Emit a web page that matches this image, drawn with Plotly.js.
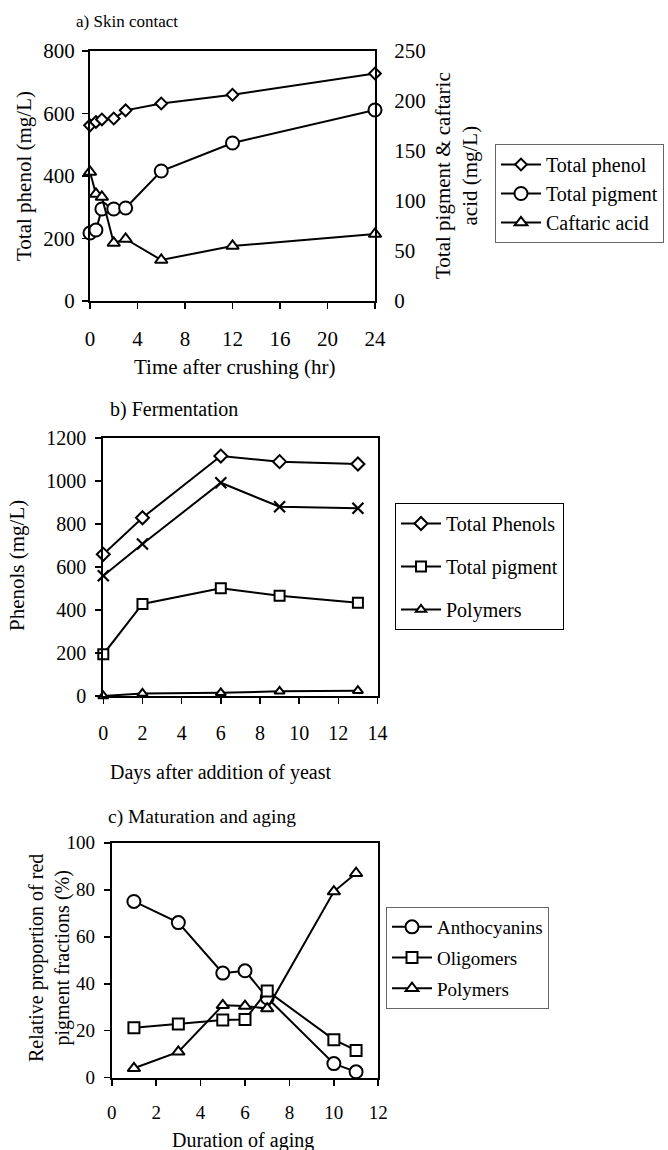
<!DOCTYPE html>
<html><head><meta charset="utf-8">
<script src="https://cdn.plot.ly/plotly-3.0.1.min.js"></script>
<style>html,body{margin:0;padding:0;background:#fff}#chart{width:668px;height:1150px}</style>
</head><body><div id="chart"></div>
<script>
// ---------- Data ----------
// a) Skin contact
const timeA = [0, 0.5, 1, 2, 3, 6, 12, 24];
const totalPhenolA = [562, 573, 581, 584, 610, 632, 660, 728];
const totalPigmentA = [68, 71, 92, 92, 93, 130, 158, 191];
const caftaricA = [129, 107, 104, 58, 62, 41, 55, 67];
// b) Fermentation
const daysB = [0, 2, 6, 9, 13];
const totalPhenolsB = [659, 829, 1116, 1090, 1079];
const unlabeledB = [559, 707, 992, 880, 873];
const totalPigmentB = [194, 428, 501, 466, 434];
const polymersB = [0, 12, 15, 22, 25];
// c) Maturation and aging
const agingC = [1, 3, 5, 6, 7, 10, 11];
const anthocyaninsC = [75, 66, 44.5, 45.5, 34, 6, 2.5];
const oligomersC = [21.3, 22.8, 24.5, 24.8, 36.9, 16.2, 11.6];
const polymersC = [4, 11, 30.8, 30.5, 29.4, 79.2, 87];

// ---------- Layout helpers ----------
const W = 668, H = 1150;
const px = v => v / W;
const py = v => 1 - v / H;
const FONT = 'Liberation Serif';

function tr(x, y, name, symbol, size, xa, ya, legend, group, showlegend) {
  return {
    x: x, y: y, name: name, type: 'scatter', mode: 'lines+markers',
    xaxis: xa, yaxis: ya, legend: legend, legendgroup: group,
    showlegend: showlegend !== false,
    line: {color: '#000', width: 2},
    marker: {symbol: symbol, size: size, color: '#fff',
             line: {color: '#000', width: 2}},
    cliponaxis: false
  };
}

function mainAx(range, dtick, domain, anchor, fs, standoff, extra) {
  return Object.assign({
    domain: domain, anchor: anchor, range: range, dtick: dtick, tick0: 0,
    ticks: 'outside', ticklen: 6, tickwidth: 1.6, tickcolor: '#000',
    showline: true, linewidth: 2, linecolor: '#000', mirror: true,
    showgrid: false, zeroline: false, ticklabelstandoff: standoff,
    tickfont: {family: FONT, size: fs, color: '#000'}
  }, extra || {});
}
function overAx(over, anchor, range, dtick, side) {
  return {
    overlaying: over, anchor: anchor, range: range, dtick: dtick, tick0: 0,
    side: side, ticks: 'inside', ticklen: 6, tickwidth: 1.6, tickcolor: '#000',
    showline: false, showgrid: false, zeroline: false, showticklabels: false
  };
}

const data = [
  tr(timeA, totalPhenolA, 'Total phenol', 'diamond', 9, 'x', 'y', 'legend', 'a1'),
  tr(timeA, totalPigmentA, 'Total pigment', 'circle', 13, 'x', 'y2', 'legend', 'a2'),
  tr(timeA, caftaricA, 'Caftaric acid', 'triangle-up', 11, 'x', 'y2', 'legend', 'a3'),

  tr(daysB, totalPhenolsB, 'Total Phenols', 'diamond', 10, 'x2', 'y3', 'legend2', 'b1'),
  Object.assign(tr(daysB, unlabeledB, 'Unlabelled series', 'x-thin', 11, 'x2', 'y3', 'legend2', 'b0', false),
    {marker: {symbol: 'x-thin', size: 11, color: '#000', line: {color: '#000', width: 2.2}}}),
  tr(daysB, totalPigmentB, 'Total pigment', 'square', 10, 'x2', 'y3', 'legend2', 'b2'),
  tr(daysB, polymersB, 'Polymers', 'triangle-up', 9, 'x2', 'y3', 'legend2', 'b3'),

  tr(agingC, anthocyaninsC, 'Anthocyanins', 'circle', 13, 'x3', 'y4', 'legend3', 'c1'),
  tr(agingC, oligomersC, 'Oligomers', 'square', 11, 'x3', 'y4', 'legend3', 'c2'),
  tr(agingC, polymersC, 'Polymers', 'triangle-up', 11, 'x3', 'y4', 'legend3', 'c3')
];

const domA = {x: [px(90), px(375)], y: [py(301), py(51)]};
const domB = {x: [px(103.3), px(377.5)], y: [py(696), py(438)]};
const domC = {x: [px(111.7), px(378.3)], y: [py(1077.7), py(842.7)]};

function ann(text, x, y, size, opts) {
  return Object.assign({
    text: text, x: x, y: y, xref: 'paper', yref: 'paper',
    xanchor: 'center', yanchor: 'middle', showarrow: false,
    font: {family: FONT, size: size, color: '#000'}
  }, opts || {});
}

const legendBase = {
  xanchor: 'left', yanchor: 'top', bgcolor: '#fff',
  bordercolor: '#000', borderwidth: 1, itemwidth: 40,
  traceorder: 'grouped'
};

const layout = {
  width: W, height: H,
  margin: {l: 0, r: 0, t: 0, b: 0},
  paper_bgcolor: '#fff', plot_bgcolor: '#fff',
  font: {family: FONT, color: '#000'},
  // panel a
  xaxis: mainAx([0, 24], 4, domA.x, 'y', 21, 12),
  yaxis: mainAx([0, 800], 200, domA.y, 'x', 21, 3, {mirror: false}),
  yaxis2: mainAx([0, 250], 50, domA.y, 'x', 21, 13, {overlaying: 'y', side: 'right', ticks: '', mirror: false}),
  xaxis4: overAx('x', 'y', [0, 24], 4, 'bottom'),
  yaxis5: overAx('y', 'x', [0, 800], 200, 'left'),
  // panel b
  xaxis2: mainAx([0, 14], 2, domB.x, 'y3', 20, 12),
  yaxis3: mainAx([0, 1200], 200, domB.y, 'x2', 20, 5),
  xaxis5: overAx('x2', 'y3', [0, 14], 2, 'bottom'),
  yaxis6: overAx('y3', 'x2', [0, 1200], 200, 'left'),
  // panel c
  xaxis3: mainAx([0, 12], 2, domC.x, 'y4', 19, 10),
  yaxis4: mainAx([0, 100], 20, domC.y, 'x3', 19, 5),
  xaxis6: overAx('x3', 'y4', [0, 12], 2, 'bottom'),
  yaxis7: overAx('y4', 'x3', [0, 100], 20, 'left'),

  legend: Object.assign({}, legendBase, {x: px(495), y: py(144), bordercolor: '#666',
    font: {family: FONT, size: 20, color: '#000'}, tracegroupgap: 0}),
  legend2: Object.assign({}, legendBase, {x: px(395), y: py(503),
    font: {family: FONT, size: 20, color: '#000'}, tracegroupgap: 14}),
  legend3: Object.assign({}, legendBase, {x: px(386), y: py(907), bordercolor: '#666',
    font: {family: FONT, size: 19, color: '#000'}, tracegroupgap: 3}),

  annotations: [
    ann('a) Skin contact', px(74), py(22), 17, {xanchor: 'left'}),
    ann('Total phenol (mg/L)', px(24), py(176), 21, {textangle: -90}),
    ann('Total pigment &amp; caftaric<br>acid (mg/L)', px(456), py(176), 21, {textangle: -90}),
    ann('Time after crushing (hr)', px(235), py(367), 21),

    ann('b) Fermentation', px(108), py(409), 20, {xanchor: 'left'}),
    ann('Phenols (mg/L)', px(17), py(566), 21, {textangle: -90}),
    ann('Days after addition of yeast', px(220), py(772), 20),

    ann('c) Maturation and aging', px(106), py(817), 19.5, {xanchor: 'left'}),
    ann('Relative proportion of red<br>pigment fractions (%)', px(49), py(958), 20, {textangle: -90}),
    ann('Duration of aging', px(243), py(1140), 20)
  ]
};

Plotly.newPlot('chart', data, layout, {displayModeBar: false, staticPlot: true});
</script>
</body></html>
